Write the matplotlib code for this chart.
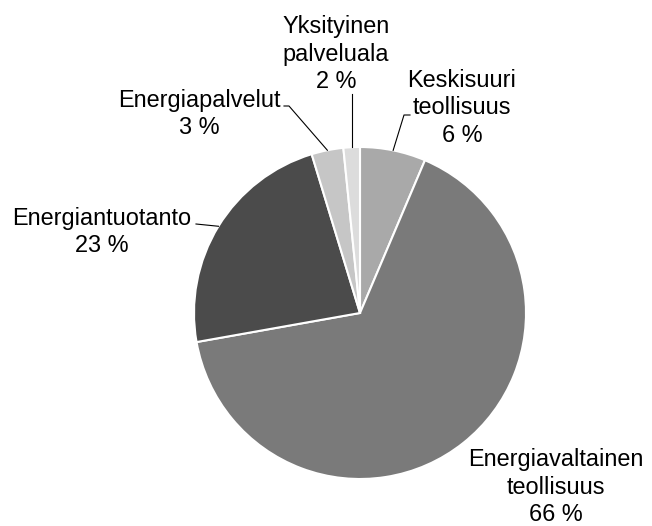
import numpy as np
import matplotlib
matplotlib.use("Agg")
import matplotlib.pyplot as plt

plt.rcParams['font.family'] = ['Liberation Sans', 'DejaVu Sans']

# data
names = ['Keskisuuri\nteollisuus', 'Energiavaltainen\nteollisuus', 'Energiantuotanto',
         'Energiapalvelut', 'Yksityinen\npalveluala']
shares = [6.4, 65.8, 23.1, 3.1, 1.6]
colors = ['#a9a9a9', '#7a7a7a', '#4b4b4b', '#c6c6c6', '#dcdcdc']

W, H = 652, 526
fig = plt.figure(figsize=(W / 100, H / 100), dpi=100)
ax = fig.add_axes([0, 0, 1, 1])

cx, cy, r = 360, H - 313, 166
wedges, _ = ax.pie(shares, colors=colors, startangle=90, counterclock=False,
                   center=(cx, cy), radius=r,
                   wedgeprops=dict(edgecolor='white', linewidth=1.5))
ax.set_xlim(0, W)
ax.set_ylim(0, H)
ax.set_aspect('equal')
ax.axis('off')

# label layout in pixel coords (y down): text centre x, last baseline y, leader start points
layout = [
    (462, 142, [(410, 115), (404, 115)]),
    (556, 521, []),
    (102, 252, [(196, 224)]),
    (199, 134, [(284, 106), (289, 106)]),
    (336, 88, None),
]

for w, name, val, (tx, ty, lead) in zip(wedges, names, shares, layout):
    txt = f'{name}\n{round(val)} %'
    ax.text(tx, H - ty, txt, ha='center', va='baseline', fontsize=16.9,
            linespacing=1.25, color='black')
    mid = np.deg2rad((w.theta1 + w.theta2) / 2)
    ex, ey = cx + r * np.cos(mid), cy + r * np.sin(mid)
    if lead is None:
        pts = [(ex, H - 94), (ex, ey)]
    elif lead:
        pts = [(x, H - y) for x, y in lead] + [(ex, ey)]
    else:
        continue
    xs, ys = zip(*pts)
    ax.plot(xs, ys, color='black', lw=0.8)

fig.savefig('out.png', dpi=100)
